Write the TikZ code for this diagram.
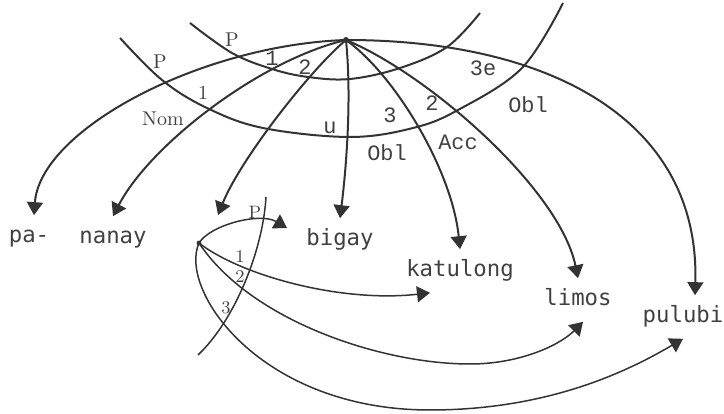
\documentclass[tikz,border=0pt]{standalone}
\usepackage{fontspec}
\usepackage{tikz}
\usetikzlibrary{arrows.meta}
\newfontfamily\wordfont{DejaVu Sans Mono}
\newfontfamily\courfont{Liberation Mono}
\definecolor{inkL}{HTML}{333333}
\definecolor{inkT}{HTML}{404040}

\tikzset{
  word/.style={font=\wordfont\fontsize{11.2}{13}\selectfont, text=inkT,
    inner xsep=2pt, inner ysep=5.5pt, text height=8pt, text depth=2.5pt},
  slab/.style={font=\fontsize{10}{12}\selectfont, text=inkT, inner sep=0pt},
  sslab/.style={slab, font=\fontsize{9}{11}\selectfont},
  clab/.style={font=\courfont\fontsize{11}{12}\selectfont, text=inkT, inner sep=0pt},
  link/.style={draw=inkL, line width=1bp, -{Triangle[length=6.5bp,width=8bp]}},
  sublink/.style={link, line width=0.75bp},
  cross/.style={draw=inkL, line width=1bp},
  subcross/.style={cross, line width=0.75bp},
}

\begin{document}
\begin{tikzpicture}[x=0.5bp, y=-0.5bp]
  \useasboundingbox (0,0) rectangle (724,414);
  % hubs
  \coordinate (hub) at (346,40);
  \coordinate (sub) at (199,243);
  \coordinate (pagTip) at (218,215);
  % words
  \node[word] (pa) at (29,237) {pa-};
  \node[word] (nanay) at (113,238) {nanay};
  \node[word] (bigay) at (340,240) {bigay};
  \node[word] (katulong) at (460,271) {katulong};
  \node[word] (limos) at (578,300) {limos};
  \node[word] (pulubi) at (683,317) {pulubi};

  % case arcs
  \draw[cross] plot[smooth, tension=0.6] coordinates {(120,38) (162,80) (207,108)
     (263,128) (350,137) (413,128) (458,110) (522,68) (563,3)};
  \draw[cross] plot[smooth, tension=0.6] coordinates {(190,23) (232,53) (272,69)
     (308,77) (350,79) (400,68) (447,47) (480,13)};

  % arrows from the hub
  \fill[inkL] (hub) circle (1.5bp);
  \draw[link] (hub) .. controls (200,45) and (40,130) .. ([xshift=2.5bp]pa.north);
  \draw[link] (hub) .. controls (260,60) and (150,145) .. (nanay.north);
  \draw[link] (hub) .. controls (310,70) and (240,160) .. (pagTip);
  \draw[link] (hub) .. controls (352,100) and (346,170) .. (bigay.north);
  \draw[link] (hub) .. controls (395,75) and (452,170) .. (katulong.north);
  \draw[link] (hub) .. controls (430,75) and (560,190) .. (limos.north);
  \draw[link] (hub) .. controls (550,40) and (700,120) .. ([xshift=6bp]pulubi.north);

  % labels on the top arcs
  \node[slab] (lP1) at (160,62) {P};
  \node[slab] (lP2) at (232,40) {P};
  \node[slab] (lOne1) at (203,93) {1};
  \node[slab] (lNom) at (163,119) {Nom};
  \node[clab] (lOne2) at (272,58) {1};
  \node[clab] (lTwo1) at (305,67) {2};
  \node[clab] (lU) at (330,128) {u};
  \node[clab] (lThree) at (390,115) {3};
  \node[clab] (lTwo2) at (432,103) {2};
  \node[clab] (lThreeE) at (483,68) {3e};
  \node[clab] (lObl1) at (528,105) {Obl};
  \node[clab] (lAcc) at (458,142) {Acc};
  \node[clab] (lObl2) at (387,153) {Obl};

  % lower fan
  \fill[inkL] (sub) circle (1.2bp);
  \draw[subcross] (266,197) .. controls (263,250) and (235,320) .. (198,355);
  \draw[sublink] (sub) .. controls (210,225) and (260,212)
     .. ([xshift=-7.5bp,yshift=6bp]bigay.west);
  \draw[sublink] (sub) .. controls (240,275) and (340,303)
     .. ([xshift=-15bp]katulong.south);
  \draw[sublink] (sub) .. controls (250,320) and (380,364) .. (470,364)
     .. controls (520,364) and (560,345) .. ([xshift=2.5bp]limos.south);
  \draw[sublink] (sub) .. controls (178,290) and (260,410) .. (430,410)
     .. controls (550,410) and (630,370) .. (pulubi.south);
  \node[sslab] (sP) at (255,212) {P};
  \node[sslab] (sOne) at (240,257) {1};
  \node[sslab] (sTwo) at (240,277) {2};
  \node[sslab] (sThree) at (226,308) {3};
\end{tikzpicture}
\end{document}
